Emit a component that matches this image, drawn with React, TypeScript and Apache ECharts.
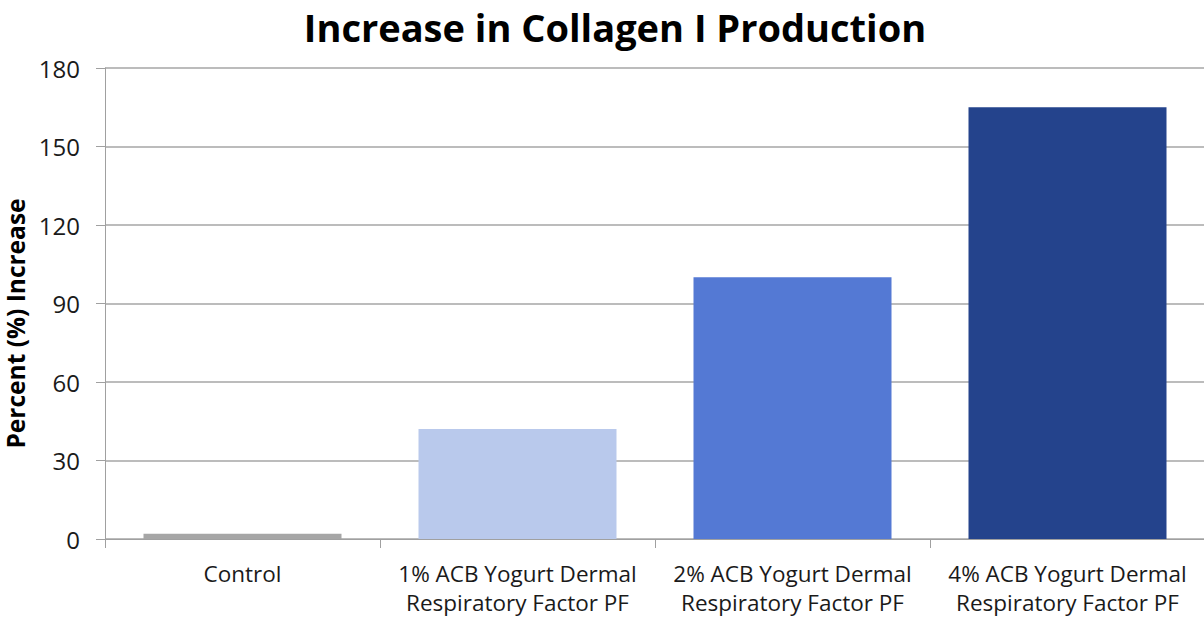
import React, { useEffect, useRef } from "react";
import * as echarts from "echarts";

const titleText = "Increase in Collagen I Production";
const yAxisName = "Percent (%) Increase";
const categories = [
  "Control",
  "1% ACB Yogurt Dermal\nRespiratory Factor PF",
  "2% ACB Yogurt Dermal\nRespiratory Factor PF",
  "4% ACB Yogurt Dermal\nRespiratory Factor PF",
];
const values = [2, 42, 100, 165];
const barColors = ["#A6A6A6", "#B9C9EC", "#5479D4", "#24438C"];

const FONT = "'Open Sans', 'Noto Sans', sans-serif";

export default function App() {
  const ref = useRef<HTMLDivElement>(null);
  useEffect(() => {
    if (!ref.current) return;
    const chart = echarts.init(ref.current, null, { renderer: "svg" });
    chart.setOption({
      animation: false,
      backgroundColor: "#ffffff",
      graphic: [
        {
          type: "text",
          x: 615,
          y: 27,
          style: {
            text: titleText,
            fontFamily: FONT,
            fontWeight: "bold",
            fontSize: 38,
            fill: "#000000",
            textAlign: "center",
            textVerticalAlign: "middle",
          },
        },
      ],
      grid: {
        left: 105,
        right: -1,
        top: 68,
        bottom: 81,
        containLabel: false,
        outerBoundsMode: "none",
      },
      xAxis: {
        type: "category",
        data: categories,
        boundaryGap: true,
        axisLine: { show: true, lineStyle: { color: "#A0A0A0", width: 1 } },
        axisTick: { show: true, alignWithLabel: false, length: 9, lineStyle: { color: "#A0A0A0" } },
        axisLabel: {
          interval: 0,
          color: "#1a1a1a",
          fontFamily: FONT,
          fontSize: 22.5,
          lineHeight: 29,
          margin: 20,
        },
        splitLine: { show: false },
      },
      yAxis: {
        type: "value",
        min: 0,
        max: 180,
        interval: 30,
        name: yAxisName,
        nameLocation: "middle",
        nameGap: 71,
        nameRotate: 90,
        nameTextStyle: {
          fontFamily: FONT,
          fontWeight: "bold",
          fontSize: 24.5,
          color: "#000000",
          padding: [0, 40, 0, 0],
        },
        axisLine: { show: true, lineStyle: { color: "#A0A0A0", width: 1 } },
        axisTick: { show: true, length: 9, lineStyle: { color: "#A0A0A0" } },
        axisLabel: {
          color: "#1a1a1a",
          fontFamily: FONT,
          fontSize: 24,
          margin: 25,
        },
        splitLine: { show: true, lineStyle: { color: "#A6A6A6", width: 1.5 } },
      },
      series: [
        {
          type: "bar",
          data: values.map((v, i) => ({ value: v, itemStyle: { color: barColors[i] } })),
          barWidth: "72%",
        },
      ],
    });
    return () => chart.dispose();
  }, []);
  return (
    <div
      ref={ref}
      style={{ position: "fixed", left: 0, top: 0, width: 1204, height: 620 }}
    />
  );
}
